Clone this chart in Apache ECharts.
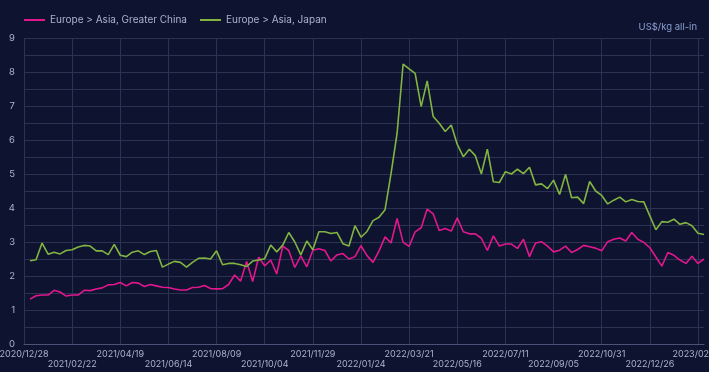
<!DOCTYPE html>
<html>
<head>
<meta charset="utf-8">
<script src="https://cdn.jsdelivr.net/npm/echarts@6/dist/echarts.min.js"></script>
<style>
html,body{margin:0;padding:0;background:#0e1430;}
#c{width:709px;height:372px;}
</style>
</head>
<body>
<div id="c"></div>
<script>
const categories = [
'2020/12/28',
'2021/01/04','2021/01/11','2021/01/18','2021/01/25','2021/02/01','2021/02/08','2021/02/15','2021/02/22',
'2021/03/01','2021/03/08','2021/03/15','2021/03/22','2021/03/29','2021/04/05','2021/04/12','2021/04/19',
'2021/04/26','2021/05/03','2021/05/10','2021/05/17','2021/05/24','2021/05/31','2021/06/07','2021/06/14',
'2021/06/21','2021/06/28','2021/07/05','2021/07/12','2021/07/19','2021/07/26','2021/08/02','2021/08/09',
'2021/08/16','2021/08/23','2021/08/30','2021/09/06','2021/09/13','2021/09/20','2021/09/27','2021/10/04',
'2021/10/11','2021/10/18','2021/10/25','2021/11/01','2021/11/08','2021/11/15','2021/11/22','2021/11/29',
'2021/12/06','2021/12/13','2021/12/20','2021/12/27','2022/01/03','2022/01/10','2022/01/17','2022/01/24',
'2022/01/31','2022/02/07','2022/02/14','2022/02/21','2022/02/28','2022/03/07','2022/03/14','2022/03/21',
'2022/03/28','2022/04/04','2022/04/11','2022/04/18','2022/04/25','2022/05/02','2022/05/09','2022/05/16',
'2022/05/23','2022/05/30','2022/06/06','2022/06/13','2022/06/20','2022/06/27','2022/07/04','2022/07/11',
'2022/07/18','2022/07/25','2022/08/01','2022/08/08','2022/08/15','2022/08/22','2022/08/29','2022/09/05',
'2022/09/12','2022/09/19','2022/09/26','2022/10/03','2022/10/10','2022/10/17','2022/10/24','2022/10/31',
'2022/11/07','2022/11/14','2022/11/21','2022/11/28','2022/12/05','2022/12/12','2022/12/19','2022/12/26',
'2023/01/02','2023/01/09','2023/01/16','2023/01/23','2023/01/30','2023/02/06','2023/02/13','2023/02/20',
'2023/02/27'
];

const greaterChina = ['-',
1.32,1.42,1.44,1.44,1.58,1.53,1.41,1.44,1.44,1.58,1.57,1.62,1.65,1.74,1.75,1.81,1.71,1.81,1.79,1.69,
1.75,1.71,1.67,1.66,1.62,1.59,1.59,1.66,1.67,1.72,1.63,1.62,1.63,1.75,2.03,1.85,2.43,1.84,2.55,2.30,
2.47,2.06,2.88,2.75,2.25,2.59,2.27,2.76,2.80,2.75,2.44,2.62,2.66,2.50,2.57,2.89,2.60,2.40,2.74,3.15,
2.97,3.69,2.99,2.87,3.30,3.42,3.97,3.83,3.34,3.40,3.32,3.71,3.30,3.24,3.24,3.11,2.75,3.18,2.88,2.94,
2.94,2.81,3.08,2.57,2.97,3.01,2.88,2.71,2.76,2.88,2.69,2.78,2.90,2.86,2.82,2.74,3.01,3.08,3.12,3.03,
3.28,3.08,2.99,2.83,2.56,2.29,2.69,2.61,2.47,2.37,2.58,2.37,2.50
];

const japan = ['-',
2.45,2.48,2.97,2.64,2.70,2.65,2.75,2.77,2.85,2.90,2.88,2.74,2.74,2.63,2.93,2.61,2.57,2.70,2.74,2.63,
2.72,2.75,2.26,2.35,2.43,2.40,2.26,2.40,2.52,2.53,2.50,2.74,2.33,2.37,2.37,2.33,2.28,2.44,2.47,2.51,
2.91,2.71,2.91,3.28,3.00,2.62,3.03,2.77,3.30,3.30,3.25,3.28,2.95,2.88,3.48,3.14,3.31,3.63,3.73,3.95,
5.02,6.20,8.23,8.09,7.96,6.98,7.74,6.69,6.49,6.25,6.44,5.87,5.51,5.73,5.54,5.00,5.73,4.77,4.75,5.07,
5.00,5.14,5.01,5.20,4.68,4.71,4.57,4.82,4.40,4.99,4.30,4.32,4.13,4.78,4.50,4.37,4.12,4.23,4.32,4.18,
4.25,4.19,4.18,3.77,3.36,3.60,3.58,3.67,3.52,3.57,3.48,3.26,3.22
];

const seriesNames = ['Europe > Asia, Greater China', 'Europe > Asia, Japan'];
const unitLabel = 'US$/kg all-in';

const chart = echarts.init(document.getElementById('c'), null, {renderer: 'canvas'});
const txt = '#aab3cc';
const font = 'Inter, Roboto, sans-serif';
const baseX = {
  type: 'category', data: categories, boundaryGap: false, position: 'bottom'
};
chart.setOption({
  backgroundColor: '#0e1430',
  animation: false,
  textStyle: {fontFamily: font},
  legend: {
    left: 19, top: 10,
    icon: 'rect', itemWidth: 21, itemHeight: 2, itemGap: 13,
    textStyle: {color: txt, fontSize: 10, fontFamily: font},
    data: seriesNames
  },
  graphic: [{
    type: 'text', right: 12, top: 22,
    style: {text: unitLabel, fill: '#8c9fd0', fontSize: 9.5, fontFamily: font}
  }],
  grid: {left: 24, right: 5, top: 38, bottom: 28, containLabel: false, outerBoundsMode: 'none'},
  xAxis: [
    Object.assign({}, baseX, {
      axisLine: {show: true, lineStyle: {color: '#4a5375', width: 1}},
      axisTick: {show: false},
      axisLabel: {
        interval: (i) => i % 16 === 0, color: txt, fontSize: 9, margin: 6,
        fontFamily: font, showMinLabel: true
      },
      splitLine: {show: true, interval: 7, lineStyle: {color: '#2b3252', width: 1}}
    }),
    Object.assign({}, baseX, {
      axisLine: {show: false}, axisTick: {show: false}, splitLine: {show: false},
      axisLabel: {
        interval: (i) => i % 16 === 8, color: txt, fontSize: 9, margin: 16,
        fontFamily: font
      }
    })
  ],
  yAxis: {
    type: 'value', min: 0, max: 9, interval: 0.5,
    axisLine: {show: false}, axisTick: {show: false},
    axisLabel: {
      color: txt, fontSize: 9.5, margin: 9, fontFamily: font,
      formatter: v => (Math.abs(v - Math.round(v)) < 1e-6 ? String(Math.round(v)) : '')
    },
    splitLine: {lineStyle: {color: '#2b3252', width: 1}}
  },
  series: [
    {name: seriesNames[0], type: 'line', data: greaterChina, showSymbol: false, symbol: 'none',
     lineStyle: {color: '#e2178d', width: 1.6}, itemStyle: {color: '#e2178d'}},
    {name: seriesNames[1], type: 'line', data: japan, showSymbol: false, symbol: 'none',
     lineStyle: {color: '#82b441', width: 1.6}, itemStyle: {color: '#82b441'}}
  ]
});
</script>
</body>
</html>
